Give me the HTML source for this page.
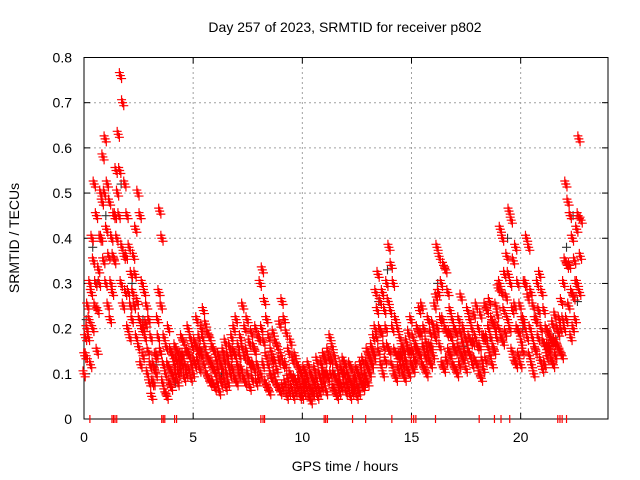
<!DOCTYPE html>
<html><head><meta charset="utf-8"><style>
body{margin:0;background:#fff;}
svg{display:block;font-family:"Liberation Sans",sans-serif;}
</style></head><body>
<svg id="chart" width="640" height="480" viewBox="0 0 640 480">
<rect width="640" height="480" fill="#fff"/>
<text x="345" y="32" font-size="14" text-anchor="middle">Day 257 of 2023, SRMTID for receiver p802</text>
<g id="grid"></g>
<g id="axes"></g>
<g id="marks"></g>
<text x="345" y="471" font-size="14" text-anchor="middle">GPS time / hours</text>
<text transform="translate(19,238) rotate(-90)" font-size="14" text-anchor="middle">SRMTID / TECUs</text>
</svg>
<script>
const xTicks=[0,5,10,15,20];
const yTicks=[0,0.1,0.2,0.3,0.4,0.5,0.6,0.7,0.8];
const redHi=[.18,.25,.30,.40,.52,.45,.33,.50,.58,.62,
.52,.48,.40,.45,.55,.63,.76,.70,.52,.45,
.38,.32,.36,.42,.50,.45,.30,.28,.25,.22,
.18,.12,.14,.22,.46,.40,.18,.16,.20,.15,
.14,.16,.15,.13,.18,.17,.15,.20,.18,.16,
.17,.22,.18,.20,.24,.21,.19,.18,.16,.15,
.13,.14,.12,.15,.17,.14,.16,.18,.20,.22,
.16,.18,.25,.20,.22,.17,.19,.16,.20,.18,
.30,.33,.26,.22,.18,.15,.19,.17,.16,.21,
.26,.22,.19,.15,.17,.13,.14,.12,.11,.10,
.11,.10,.12,.10,.09,.11,.13,.10,.12,.14,
.13,.15,.18,.16,.14,.12,.10,.11,.13,.12,
.10,.12,.11,.09,.11,.10,.12,.13,.10,.15,
.14,.16,.18,.28,.32,.26,.28,.24,.30,.38,
.34,.30,.22,.20,.18,.16,.15,.17,.19,.22,
.18,.16,.20,.24,.25,.20,.17,.22,.19,.21,
.25,.38,.36,.30,.34,.33,.28,.24,.22,.20,
.19,.22,.27,.20,.18,.24,.22,.20,.23,.25,
.20,.23,.18,.25,.24,.26,.22,.21,.25,.29,
.42,.40,.32,.36,.46,.44,.35,.38,.30,.25,
.22,.30,.40,.38,.28,.25,.22,.30,.32,.28,
.24,.20,.19,.18,.21,.23,.20,.22,.26,.30,
.52,.48,.45,.40,.35,.42,.62,.44];
const redMid=[.14,.20,.22,.28,.35,.30,.24,.40,.48,.50,
.42,.36,.30,.36,.45,.50,.55,.38,.36,.36,
.28,.25,.28,.32,.26,.22,.20,.20,.21,.15,
.12,.08,.11,.14,.28,.25,.12,.10,.12,.11,
.10,.12,.13,.10,.14,.14,.12,.15,.14,.12,
.13,.16,.15,.15,.18,.16,.14,.13,.12,.11,
.10,.11,.09,.11,.13,.10,.12,.14,.15,.14,
.12,.14,.16,.14,.15,.13,.12,.12,.15,.12,
.18,.20,.17,.14,.12,.10,.13,.13,.11,.13,
.14,.12,.12,.09,.10,.09,.09,.08,.09,.07,
.08,.08,.09,.07,.06,.08,.09,.07,.09,.10,
.10,.10,.13,.13,.10,.09,.08,.08,.10,.10,
.08,.09,.08,.07,.09,.07,.09,.10,.08,.12,
.11,.13,.15,.20,.24,.20,.19,.16,.20,.26,
.24,.20,.15,.14,.14,.14,.12,.13,.15,.15,
.15,.13,.16,.19,.19,.16,.14,.15,.16,.16,
.19,.27,.28,.22,.22,.20,.19,.19,.18,.16,
.15,.16,.19,.17,.15,.17,.18,.17,.17,.18,
.16,.16,.13,.18,.18,.20,.18,.16,.20,.23,
.30,.28,.24,.27,.32,.30,.24,.25,.20,.19,
.17,.22,.30,.27,.20,.18,.16,.22,.24,.20,
.17,.16,.16,.16,.17,.17,.17,.19,.20,.22,
.35,.34,.34,.28,.27,.30,.45,.36];
const redLo=[.10,.14,.18,.12,.20,.25,.15,.30,.40,.35,
.30,.25,.22,.28,.35,.40,.45,.30,.25,.28,
.20,.18,.22,.25,.18,.16,.12,.14,.18,.10,
.08,.05,.08,.10,.18,.15,.08,.06,.05,.08,
.07,.09,.10,.08,.11,.12,.09,.10,.11,.09,
.10,.12,.13,.11,.14,.12,.10,.09,.08,.08,
.07,.08,.06,.08,.09,.07,.08,.10,.11,.09,
.08,.10,.11,.09,.08,.10,.07,.09,.11,.08,
.09,.10,.12,.08,.07,.06,.09,.10,.08,.07,
.06,.07,.08,.05,.06,.07,.05,.06,.07,.05,
.05,.06,.07,.05,.04,.06,.07,.05,.06,.07,
.08,.06,.09,.10,.07,.06,.05,.06,.07,.08,
.06,.07,.05,.06,.07,.05,.06,.08,.07,.09,
.08,.10,.12,.14,.18,.15,.12,.10,.13,.16,
.15,.12,.10,.09,.11,.12,.10,.09,.11,.10,
.12,.11,.13,.15,.14,.12,.11,.10,.13,.12,
.14,.18,.20,.16,.12,.11,.13,.15,.14,.12,
.11,.10,.12,.14,.13,.11,.15,.14,.12,.13,
.12,.10,.09,.11,.13,.16,.14,.12,.15,.18,
.20,.18,.17,.19,.22,.20,.15,.13,.12,.14,
.12,.15,.20,.18,.14,.12,.10,.15,.18,.13,
.11,.12,.14,.15,.13,.12,.14,.16,.15,.14,
.20,.22,.25,.18,.20,.22,.30,.28];
const redStep=0.1;
const blackT=[0.1,0.4,0.6,1.0,1.7,2.2,2.7,3.3,4.2,5.4,6.3,7.5,8.6,9.4,10.2,11.5,12.6,13.5,13.9,14.6,16.2,17.4,18.6,19.4,20.1,20.8,21.5,22.1,22.4,22.6];
const blackV=[0.22,0.38,0.30,0.45,0.52,0.30,0.22,0.12,0.08,0.15,0.10,0.13,0.09,0.06,0.07,0.10,0.07,0.26,0.33,0.15,0.30,0.16,0.18,0.40,0.20,0.24,0.18,0.38,0.45,0.26];
const zeroT=[0.27,1.28,1.35,1.42,1.5,3.56,3.63,3.7,4.15,4.24,8.1,8.2,8.27,11.0,11.07,11.15,12.3,12.9,14.1,15.0,15.1,15.2,16.1,18.1,18.8,19.1,19.5,21.7,21.8,21.9,22.1];

const X0=84,X1=608,Y0=419,Y1=57.5;
const xs=h=>X0+h*(X1-X0)/24;
const ys=v=>Y0-v*(Y0-Y1)/0.8;
const NS="http://www.w3.org/2000/svg";
function mk(tag,attrs,parent){const e=document.createElementNS(NS,tag);for(const k in attrs)e.setAttribute(k,attrs[k]);parent.appendChild(e);return e;}
const grid=document.getElementById('grid'),axes=document.getElementById('axes'),marks=document.getElementById('marks');
xTicks.forEach(t=>{
  const x=xs(t);
  if(t>0){const g=mk('line',{x1:x,y1:Y0,x2:x,y2:Y1,stroke:'#a0a0a0','stroke-dasharray':'2,3'},grid);
  
  }
  mk('line',{x1:x,y1:Y0,x2:x,y2:Y0-6,stroke:'#000'},axes);
  mk('line',{x1:x,y1:Y1,x2:x,y2:Y1+6,stroke:'#000'},axes);
  const l=mk('text',{x:x,y:Y0+23,'font-size':14,'text-anchor':'middle'},axes);l.textContent=t;
  
  
});
yTicks.forEach(t=>{
  const y=ys(t);
  if(t>0&&t<0.8){const g=mk('line',{x1:X0,y1:y,x2:X1,y2:y,stroke:'#a0a0a0','stroke-dasharray':'2,3'},grid);
  
  }
  mk('line',{x1:X0,y1:y,x2:X0+6,y2:y,stroke:'#000'},axes);
  mk('line',{x1:X1,y1:y,x2:X1-6,y2:y,stroke:'#000'},axes);
  const l=mk('text',{x:X0-12,y:y+5,'font-size':14,'text-anchor':'end'},axes);l.textContent=t===0?'0':t.toFixed(1);
  
  
});
const frame=mk('rect',{x:X0,y:Y1,width:X1-X0,height:Y0-Y1,fill:'none',stroke:'#000','stroke-width':1},axes);


function plus(h,v,dx,dy){const x=xs(h)+(dx||0),y=ys(v)+(dy||0);return `M${x-4.5},${y}h9M${x},${y-4.5}v9`;}
let dB='';
blackT.forEach((t,i)=>{dB+=plus(t,blackV[i]);});
const pb=mk('path',{d:dB,stroke:'#333','stroke-width':1.1,fill:'none'},marks);


let dR='';
[redLo,redMid,redHi].forEach((arr,k)=>{arr.forEach((v,i)=>{
  dR+=plus(i*redStep+k*0.033,v);
  dR+=plus(i*redStep+k*0.033,v,1.2,3);
  dR+=plus(i*redStep+k*0.033,v,-1,-3);
});});
zeroT.forEach(t=>{const x=xs(t);dR+=`M${x},${Y0-4}v8`;});
const pr=mk('path',{d:dR,stroke:'#ff0000','stroke-width':1.2,fill:'none'},marks);


</script>
</body></html>
